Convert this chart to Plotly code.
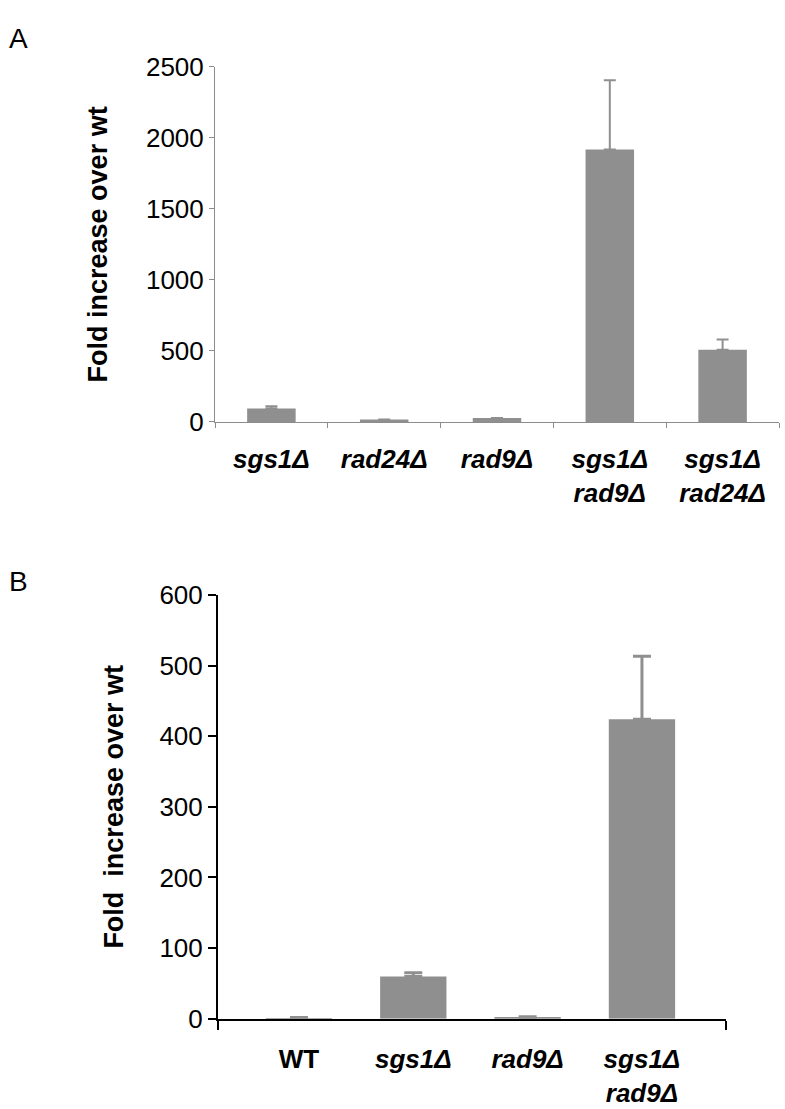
import plotly.graph_objects as go
from plotly.subplots import make_subplots

# Panel A
a_labels = ["sgs1Δ", "rad24Δ", "rad9Δ", "sgs1Δ<br>rad9Δ", "sgs1Δ<br>rad24Δ"]
a_values = [95, 18, 28, 1918, 508]
a_errors = [15, 0, 0, 488, 72]

# Panel B
b_labels = ["WT", "sgs1Δ", "rad9Δ", "sgs1Δ<br>rad9Δ"]
b_values = [1, 60, 2, 424]
b_errors = [1, 5, 1, 89]

bar_color = "#8f8f8f"
font_family = "Liberation Sans, Arial, sans-serif"


def fmt(label, italic=True):
    if italic:
        return "<b><i>" + label.replace("<br>", "</i></b><br><b><i>") + "</i></b>"
    return "<b>" + label + "</b>"


fig = make_subplots(rows=2, cols=1)

fig.add_trace(go.Bar(
    x=list(range(len(a_labels))), y=a_values, width=0.43,
    marker=dict(color=bar_color, line=dict(width=0)),
    error_y=dict(type="data", array=a_errors, arrayminus=[0] * len(a_errors),
                 symmetric=False, color=bar_color, thickness=2, width=6),
    showlegend=False,
), row=1, col=1)

fig.add_trace(go.Bar(
    x=list(range(len(b_labels))), y=b_values, width=0.58,
    marker=dict(color=bar_color, line=dict(width=0)),
    error_y=dict(type="data", array=b_errors, arrayminus=[0] * len(b_errors),
                 symmetric=False, color=bar_color, thickness=3, width=9),
    showlegend=False,
), row=2, col=1)

tick_font = dict(family=font_family, size=26, color="black")
title_font = dict(family=font_family, size=27, color="black")

fig.update_layout(
    width=785, height=1109,
    margin=dict(l=0, r=0, t=0, b=0),
    paper_bgcolor="white", plot_bgcolor="white",
    font=dict(family=font_family, color="black"),
    xaxis=dict(
        domain=[215 / 785, 779 / 785], range=[-0.5, 4.5],
        tickmode="array", tickvals=list(range(len(a_labels))),
        ticktext=[fmt(l) for l in a_labels], ticks="", tickfont=tick_font,
        ticklabelstandoff=14,
        showline=True, linecolor="#8c8c8c", linewidth=1, showgrid=False, zeroline=False,
        minor=dict(tickvals=[i - 0.5 for i in range(len(a_labels) + 1)], ticks="outside",
                   ticklen=5, tickcolor="#8c8c8c", tickwidth=1, showgrid=False),
    ),
    yaxis=dict(
        domain=[1 - 418.3 / 1109, 1 - 53.3 / 1109], range=[0, 2500],
        tickvals=[0, 500, 1000, 1500, 2000, 2500], ticks="outside", ticklen=5,
        tickcolor="#8c8c8c", tickwidth=1, tickfont=tick_font,
        showline=True, linecolor="#8c8c8c", linewidth=1, showgrid=False, zeroline=False,
        title=dict(text="<b>Fold increase over wt</b>", standoff=30, font=title_font),
    ),
    xaxis2=dict(
        domain=[218 / 785, 726 / 785], range=[-0.708, 3.735],
        tickmode="array", tickvals=list(range(len(b_labels))),
        ticktext=[fmt(l, l != "WT") for l in b_labels], ticks="", tickfont=tick_font,
        ticklabelstandoff=16,
        showline=True, linecolor="black", linewidth=2, showgrid=False, zeroline=False,
        minor=dict(tickvals=[-0.708, 3.735], ticks="outside", ticklen=9,
                   tickcolor="black", tickwidth=2, showgrid=False),
    ),
    yaxis2=dict(
        domain=[1 - 1031.7 / 1109, 1 - 596 / 1109], range=[0, 600],
        tickvals=[0, 100, 200, 300, 400, 500, 600], ticks="outside", ticklen=8,
        tickcolor="black", tickwidth=2, tickfont=tick_font,
        showline=True, linecolor="black", linewidth=2, showgrid=False, zeroline=False,
        title=dict(text="<b>Fold  increase over wt</b>", standoff=28, font=title_font),
    ),
    annotations=[
        dict(text="A", x=7 / 785, y=1 - 6 / 1109, xref="paper", yref="paper",
             xanchor="left", yanchor="top", showarrow=False,
             font=dict(family=font_family, size=28, color="black")),
        dict(text="B", x=7 / 785, y=1 - 564 / 1109, xref="paper", yref="paper",
             xanchor="left", yanchor="top", showarrow=False,
             font=dict(family=font_family, size=28, color="black")),
    ],
)

fig.write_html("out.html", config={"displayModeBar": False},
               post_script="document.body.style.margin='0';")
